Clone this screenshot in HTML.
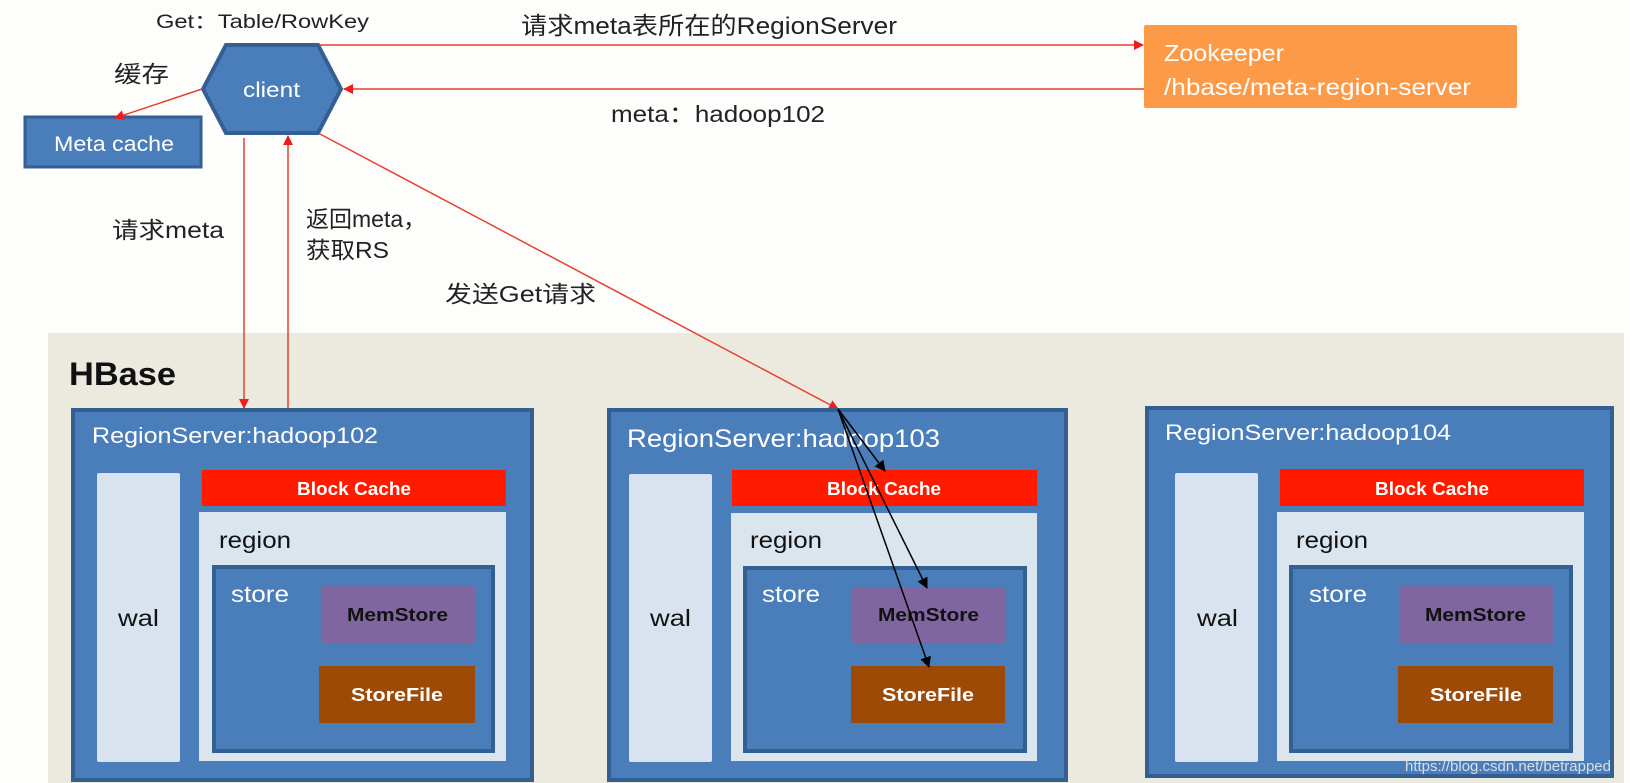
<!DOCTYPE html>
<html><head><meta charset="utf-8"><style>
html,body{margin:0;padding:0;background:#fdfdfb;}
svg{display:block;}
text{font-family:"Liberation Sans","Noto Sans CJK SC",sans-serif;}
</style></head><body>
<svg width="1630" height="783" viewBox="0 0 1630 783" xmlns="http://www.w3.org/2000/svg">
<defs>
<marker id="ra" markerWidth="10" markerHeight="10" refX="9" refY="5" orient="auto" markerUnits="userSpaceOnUse"><path d="M0,0 L10,5 L0,10 z" fill="#ee1c1c"/></marker>
<marker id="ba" markerWidth="11" markerHeight="11" refX="10" refY="5.5" orient="auto" markerUnits="userSpaceOnUse"><path d="M0,0 L11,5.5 L0,11 z" fill="#000"/></marker>
</defs>
<rect width="1630" height="783" fill="#fdfdfb"/>
<rect x="48" y="333" width="1576" height="450" fill="#ece9df"/>
<text x="69" y="385" font-size="32" font-weight="bold" fill="#111" textLength="107" lengthAdjust="spacingAndGlyphs">HBase</text>

<!-- Zookeeper -->
<rect x="1144" y="25" width="373" height="83" rx="2" fill="#fd9a47"/>
<text x="1164" y="61" font-size="23" fill="#fff" textLength="120" lengthAdjust="spacingAndGlyphs">Zookeeper</text>
<text x="1164" y="95" font-size="23" fill="#fff" textLength="307" lengthAdjust="spacingAndGlyphs">/hbase/meta-region-server</text>

<!-- client -->
<polygon points="203,89 226,45 318,45 341,89 318,133 226,133" fill="#4a7ebb" stroke="#345f92" stroke-width="4"/>
<text x="243" y="97" font-size="21" fill="#fff" textLength="57" lengthAdjust="spacingAndGlyphs">client</text>

<!-- Meta cache -->
<rect x="25" y="117" width="176" height="50" fill="#4a7ebb" stroke="#345f92" stroke-width="3"/>
<text x="54" y="151" font-size="21" fill="#fff" textLength="120" lengthAdjust="spacingAndGlyphs">Meta cache</text>

<text x="156" y="28" font-size="19" fill="#222" textLength="213" lengthAdjust="spacingAndGlyphs">Get：Table/RowKey</text>
<text x="114" y="82" font-size="23" fill="#222" textLength="55" lengthAdjust="spacingAndGlyphs">缓存</text>
<text x="521" y="34" font-size="24" fill="#222" textLength="376" lengthAdjust="spacingAndGlyphs">请求meta表所在的RegionServer</text>
<text x="611" y="122" font-size="23" fill="#222" textLength="214" lengthAdjust="spacingAndGlyphs">meta：hadoop102</text>
<text x="112" y="238" font-size="23" fill="#222" textLength="112" lengthAdjust="spacingAndGlyphs">请求meta</text>
<text x="306" y="227" font-size="23" fill="#222">返回meta，</text>
<text x="306" y="258" font-size="23" fill="#222" textLength="83" lengthAdjust="spacingAndGlyphs">获取RS</text>
<text x="445" y="302" font-size="23" fill="#222" textLength="151" lengthAdjust="spacingAndGlyphs">发送Get请求</text>

<!-- red connectors -->
<g stroke="#e8402f" stroke-width="1.5" fill="none">
<line x1="320" y1="45" x2="1143" y2="45" marker-end="url(#ra)"/>
<line x1="1144" y1="89" x2="344" y2="89" marker-end="url(#ra)"/>
<line x1="202" y1="89" x2="115" y2="118" marker-end="url(#ra)"/>
<line x1="244" y1="138" x2="244" y2="408" marker-end="url(#ra)"/>
<line x1="288" y1="408" x2="288" y2="136" marker-end="url(#ra)"/>
<line x1="320" y1="134" x2="838" y2="409" marker-end="url(#ra)"/>
</g>

<!-- RS1 -->
<g>
<rect x="73" y="410" width="459" height="370" fill="#4a7ebb" stroke="#345f92" stroke-width="4"/>
<text x="92" y="443" font-size="22" fill="#fff" textLength="286" lengthAdjust="spacingAndGlyphs">RegionServer:hadoop102</text>
<rect x="97" y="473" width="83" height="289" rx="2" fill="#d8e3ef"/>
<text x="118" y="626" font-size="23" fill="#111" textLength="41" lengthAdjust="spacingAndGlyphs">wal</text>
<rect x="202" y="470" width="304" height="36" fill="#ff1a00"/>
<text x="297" y="495" font-size="18" font-weight="bold" fill="#fff" textLength="114" lengthAdjust="spacingAndGlyphs">Block Cache</text>
<rect x="199" y="512" width="307" height="249" fill="#dbe5ee"/>
<text x="219" y="548" font-size="23" fill="#111" textLength="72" lengthAdjust="spacingAndGlyphs">region</text>
<rect x="214" y="567" width="279" height="184" fill="#4a7ebb" stroke="#345f92" stroke-width="4"/>
<text x="231" y="602" font-size="23" fill="#fff" textLength="58" lengthAdjust="spacingAndGlyphs">store</text>
<rect x="321" y="586" width="154" height="57" fill="#8066a0"/>
<text x="347" y="621" font-size="18" font-weight="bold" fill="#111" textLength="101" lengthAdjust="spacingAndGlyphs">MemStore</text>
<rect x="319" y="666" width="156" height="57" fill="#9c4a06"/>
<text x="351" y="701" font-size="18" font-weight="bold" fill="#fff" textLength="92" lengthAdjust="spacingAndGlyphs">StoreFile</text>
</g>

<!-- RS2 -->
<g>
<rect x="609" y="410" width="457" height="370" fill="#4a7ebb" stroke="#345f92" stroke-width="4"/>
<text x="627" y="447" font-size="25" fill="#fff" textLength="313" lengthAdjust="spacingAndGlyphs">RegionServer:hadoop103</text>
<rect x="629" y="474" width="83" height="288" rx="2" fill="#d8e3ef"/>
<text x="650" y="626" font-size="23" fill="#111" textLength="41" lengthAdjust="spacingAndGlyphs">wal</text>
<rect x="732" y="470" width="305" height="36" fill="#ff1a00"/>
<text x="827" y="495" font-size="18" font-weight="bold" fill="#fff" textLength="114" lengthAdjust="spacingAndGlyphs">Block Cache</text>
<rect x="731" y="513" width="306" height="248" fill="#dbe5ee"/>
<text x="750" y="548" font-size="23" fill="#111" textLength="72" lengthAdjust="spacingAndGlyphs">region</text>
<rect x="745" y="568" width="280" height="183" fill="#4a7ebb" stroke="#345f92" stroke-width="4"/>
<text x="762" y="602" font-size="23" fill="#fff" textLength="58" lengthAdjust="spacingAndGlyphs">store</text>
<rect x="851" y="587" width="155" height="56" fill="#8066a0"/>
<text x="878" y="621" font-size="18" font-weight="bold" fill="#111" textLength="101" lengthAdjust="spacingAndGlyphs">MemStore</text>
<rect x="851" y="666" width="154" height="57" fill="#9c4a06"/>
<text x="882" y="701" font-size="18" font-weight="bold" fill="#fff" textLength="92" lengthAdjust="spacingAndGlyphs">StoreFile</text>
</g>

<!-- RS3 -->
<g>
<rect x="1147" y="408" width="465" height="368" fill="#4a7ebb" stroke="#345f92" stroke-width="4"/>
<text x="1165" y="440" font-size="22" fill="#fff" textLength="286" lengthAdjust="spacingAndGlyphs">RegionServer:hadoop104</text>
<rect x="1175" y="473" width="83" height="289" rx="2" fill="#d8e3ef"/>
<text x="1197" y="626" font-size="23" fill="#111" textLength="41" lengthAdjust="spacingAndGlyphs">wal</text>
<rect x="1280" y="469" width="304" height="37" fill="#ff1a00"/>
<text x="1375" y="495" font-size="18" font-weight="bold" fill="#fff" textLength="114" lengthAdjust="spacingAndGlyphs">Block Cache</text>
<rect x="1277" y="512" width="307" height="249" fill="#dbe5ee"/>
<text x="1296" y="548" font-size="23" fill="#111" textLength="72" lengthAdjust="spacingAndGlyphs">region</text>
<rect x="1291" y="567" width="280" height="184" fill="#4a7ebb" stroke="#345f92" stroke-width="4"/>
<text x="1309" y="602" font-size="23" fill="#fff" textLength="58" lengthAdjust="spacingAndGlyphs">store</text>
<rect x="1399" y="586" width="154" height="57" fill="#8066a0"/>
<text x="1425" y="621" font-size="18" font-weight="bold" fill="#111" textLength="101" lengthAdjust="spacingAndGlyphs">MemStore</text>
<rect x="1398" y="666" width="155" height="57" fill="#9c4a06"/>
<text x="1430" y="701" font-size="18" font-weight="bold" fill="#fff" textLength="92" lengthAdjust="spacingAndGlyphs">StoreFile</text>
</g>

<!-- black arrows -->
<g stroke="#000" stroke-width="1.5" fill="none">
<line x1="838" y1="409" x2="885" y2="471" marker-end="url(#ba)"/>
<line x1="838" y1="409" x2="927" y2="588" marker-end="url(#ba)"/>
<line x1="838" y1="409" x2="929" y2="667" marker-end="url(#ba)"/>
</g>

<text x="1405" y="771" font-size="15" fill="#e8e8ee" opacity="0.9">https://blog.csdn.net/betrapped</text>
</svg>
</body></html>
